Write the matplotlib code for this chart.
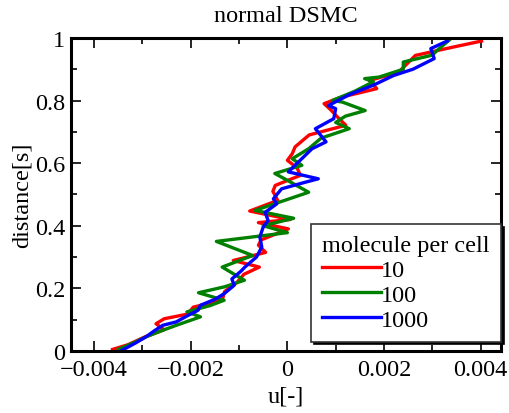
import matplotlib
matplotlib.use("Agg")
import matplotlib.pyplot as plt
from matplotlib.ticker import MultipleLocator, FuncFormatter

plt.rcParams["font.family"] = ["Liberation Serif", "DejaVu Serif"]

# u values in units of 1e-3
red_u = [-3.62, -3.3, -2.95, -2.55, -2.72, -2.55, -2.06, -1.95, -1.35, -1.3, -1.05, -0.9,
         -0.58, -1.12, -0.45, -0.6, -0.54, 0.02, -0.6, 0.06, -0.78, -0.2, -0.3, -0.25,
         0.27, 0.2, 0.0, 0.1, 0.16, 0.45, 1.21, 1.07, 0.9, 0.76, 1.1, 1.85, 1.7, 2.3,
         2.65, 3.41, 4.02]
red_s = [0.005, 0.02, 0.045, 0.068, 0.087, 0.103, 0.118, 0.14, 0.162, 0.19, 0.218, 0.245,
         0.268, 0.289, 0.315, 0.338, 0.355, 0.39, 0.41, 0.42, 0.447, 0.481, 0.51, 0.529,
         0.561, 0.585, 0.609, 0.63, 0.652, 0.69, 0.721, 0.742, 0.77, 0.79, 0.81, 0.838,
         0.864, 0.89, 0.944, 0.97, 0.99]

green_u = [-3.5, -3.2, -2.93, -2.6, -2.3, -1.8, -2.08, -1.6, -1.31, -1.84, -1.3, -0.89,
           -1.1, -1.35, -0.72, -1.47, 0.0, -0.5, 0.13, -0.67, 0.44, 0.06, -0.26, 0.3,
           0.1, 0.44, 0.7, 1.28, 1.0, 1.2, 1.61, 1.14, 0.93, 1.4, 1.78, 1.6, 1.9, 2.4,
           2.4, 3.0, 3.1, 3.35]
green_s = [0.005, 0.025, 0.045, 0.065, 0.082, 0.109, 0.125, 0.145, 0.162, 0.186, 0.205, 0.226,
           0.245, 0.268, 0.305, 0.35, 0.378, 0.40, 0.424, 0.449, 0.507, 0.54, 0.567, 0.593,
           0.614, 0.646, 0.68, 0.71, 0.73, 0.75, 0.768, 0.795, 0.80, 0.83, 0.86, 0.87, 0.875, 0.9,
           0.923, 0.945, 0.96, 0.993]

blue_u = [-3.45, -3.15, -2.93, -2.75, -2.58, -2.3, -2.1, -1.85, -1.8, -1.5, -1.31, -1.1,
          -1.15, -0.96, -0.88, -0.64, -0.53, -0.57, -0.5, -0.4, -0.46, -0.22, -0.29, -0.12,
          0.37, 0.64, 0.02, 0.23, 0.51, 0.8, 0.58, 0.96, 1.0, 0.85, 1.3, 1.78, 2.2, 2.6,
          3.04, 2.97, 3.31]
blue_s = [0.0, 0.025, 0.045, 0.065, 0.082, 0.093, 0.11, 0.13, 0.146, 0.165, 0.183, 0.21,
          0.23, 0.255, 0.268, 0.30, 0.332, 0.364, 0.396, 0.417, 0.443, 0.47, 0.486, 0.518,
          0.539, 0.55, 0.572, 0.604, 0.646, 0.668, 0.71, 0.742, 0.774, 0.784, 0.82, 0.849,
          0.88, 0.9, 0.934, 0.966, 0.99]

series = [
    ("10", red_u, red_s, "#ff0000"),
    ("100", green_u, green_s, "#008000"),
    ("1000", blue_u, blue_s, "#0000ff"),
]

FS = 17.5


def tick_fmt(v, pos):
    if abs(v) < 1e-12:
        return "0"
    return f"{v:g}".replace("-", "\u2212")


fig = plt.figure(figsize=(5.09, 4.14), dpi=100)
ax = fig.add_axes([0.1395, 0.1498, 0.8445, 0.7562])

for label, u, s, color in series:
    ax.plot([v * 1e-3 for v in u], s, color=color, lw=2.4, label=label,
            solid_joinstyle="round")

ax.set_xlim(-0.00448, 0.00442)
ax.set_ylim(0, 1)
ax.xaxis.set_major_locator(MultipleLocator(0.002))
ax.xaxis.set_minor_locator(MultipleLocator(0.001))
ax.yaxis.set_major_locator(MultipleLocator(0.2))
ax.yaxis.set_minor_locator(MultipleLocator(0.1))
ax.xaxis.set_major_formatter(FuncFormatter(tick_fmt))
ax.yaxis.set_major_formatter(FuncFormatter(tick_fmt))
ax.tick_params(which="both", direction="in", top=True, right=True, labelsize=FS, width=1.2)
ax.tick_params(which="major", length=7)
ax.tick_params(which="minor", length=4)
ax.tick_params(axis="x", pad=6)
ax.tick_params(axis="y", pad=4)
for sp in ax.spines.values():
    sp.set_linewidth(2.2)

ax.set_title("normal DSMC", fontsize=FS, pad=12)
ax.set_xlabel("u[-]", fontsize=FS, labelpad=4)
ax.set_ylabel("distance[s]", fontsize=FS, labelpad=2)

leg = ax.legend(title="molecule per cell", loc="lower right", bbox_to_anchor=(1.0, 0.03),
                fontsize=FS, title_fontsize=FS,
                frameon=True, fancybox=False, shadow={"color": "black", "alpha": 1},
                handlelength=2.4, handletextpad=0.0, labelspacing=0.12, borderpad=0.45,
                borderaxespad=0.0, alignment="left")
leg.get_frame().set_edgecolor("#333333")
leg.get_frame().set_linewidth(1.2)

fig.savefig("out.png", dpi=100)
